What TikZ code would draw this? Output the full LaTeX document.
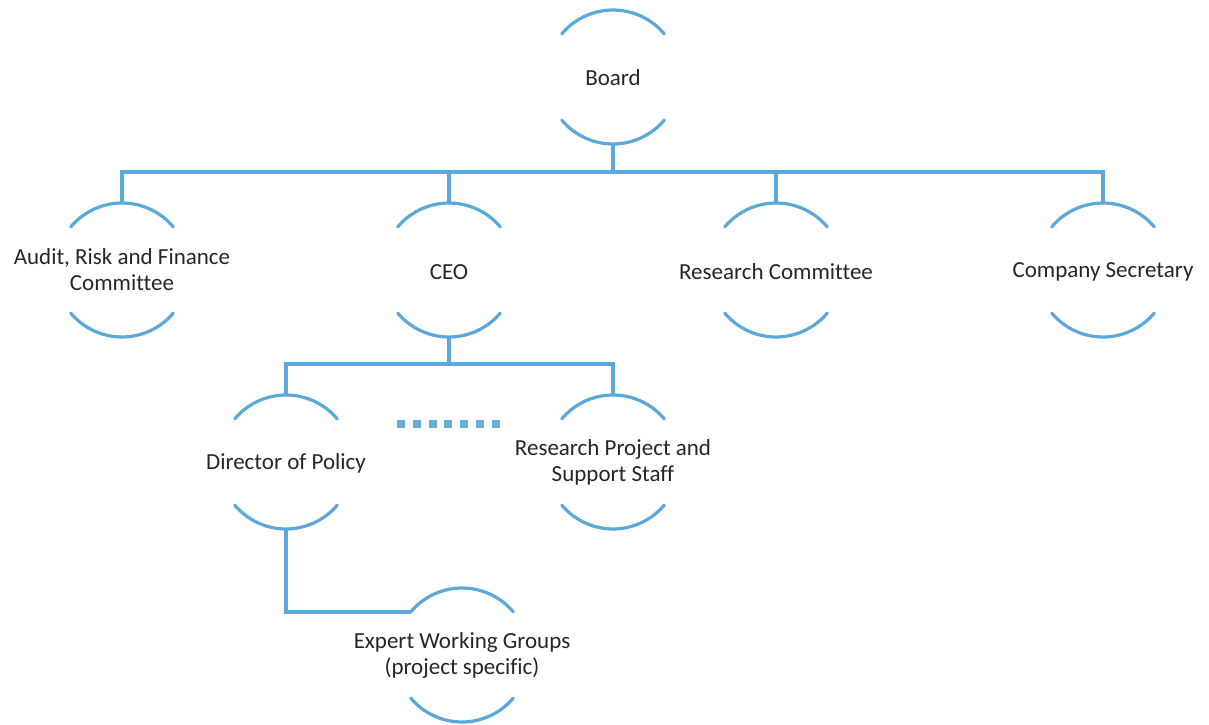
\documentclass[tikz,border=0pt]{standalone}
\usepackage{fontspec}
\setmainfont{Carlito}[Ligatures={NoCommon}]
\usetikzlibrary{calc}
\definecolor{lineblue}{RGB}{91,168,217}
\definecolor{dotblue}{RGB}{107,174,214}
\definecolor{txt}{RGB}{38,38,38}
\begin{document}
\begin{tikzpicture}[x=1pt,y=1pt,
  ring/.style={circle, minimum size=134pt, inner sep=0pt, outer sep=0pt, draw=none},
  lbl/.style={inner sep=0pt, align=center, text=txt, font=\fontsize{23}{26}\selectfont},
  conn/.style={draw=lineblue, line width=3.2pt},
  arcline/.style={draw=lineblue, line width=3.2pt, line cap=round}]
\useasboundingbox (0,0) rectangle (1209,724);
% nodes
\node[ring] (board) at (613,647) {};
\node[ring] (audit) at (122,454) {};
\node[ring] (ceo) at (449,454) {};
\node[ring] (rc) at (776,454) {};
\node[ring] (csec) at (1103,454) {};
\node[ring] (dir) at (286,262) {};
\node[ring] (rps) at (613,262) {};
\node[ring] (exp) at (462,69) {};
% labels
\node[lbl] (board-t) at ([yshift=-1pt]board) {Board};
\node[lbl] (audit-t) at (audit) {Audit, Risk and Finance\\Committee};
\node[lbl] (ceo-t) at ([yshift=-2pt]ceo) {CEO};
\node[lbl] (rc-t) at ([yshift=-2pt]rc) {Research Committee};
\node[lbl] (csec-t) at ([yshift=-2pt]csec) {Company Secretary};
\node[lbl] (dir-t) at ([yshift=-1pt]dir) {Director of Policy};
\node[lbl] (rps-t) at (rps) {Research Project and\\Support Staff};
\node[lbl] (exp-t) at (exp) {Expert Working Groups\\(project specific)};
% arcs
\foreach \n in {board,audit,ceo,rc,csec,dir,rps,exp}{
  \draw[arcline] (\n.40) arc[start angle=40, end angle=140, radius=67pt];
  \draw[arcline] (\n.220) arc[start angle=220, end angle=320, radius=67pt];
}
% connectors
\draw[conn] (board.south) -- ++(0,-28) coordinate (bus1);
\draw[conn] (audit.north) |- (bus1) -| (csec.north);
\draw[conn] (ceo.north) -- (ceo.north |- bus1);
\draw[conn] (rc.north) -- (rc.north |- bus1);
\draw[conn] (ceo.south) -- ++(0,-27) coordinate (bus2);
\draw[conn] (dir.north) |- (bus2) -| (rps.north);
\draw[conn] (dir.south) |- (exp.140);
% dotted line
\coordinate (dots-a) at (397,300);
\coordinate (dots-b) at (500,300);
\draw[draw=dotblue, line width=8pt, dash pattern=on 8pt off 7.83pt] (dots-a) -- (dots-b);
\end{tikzpicture}
\end{document}
